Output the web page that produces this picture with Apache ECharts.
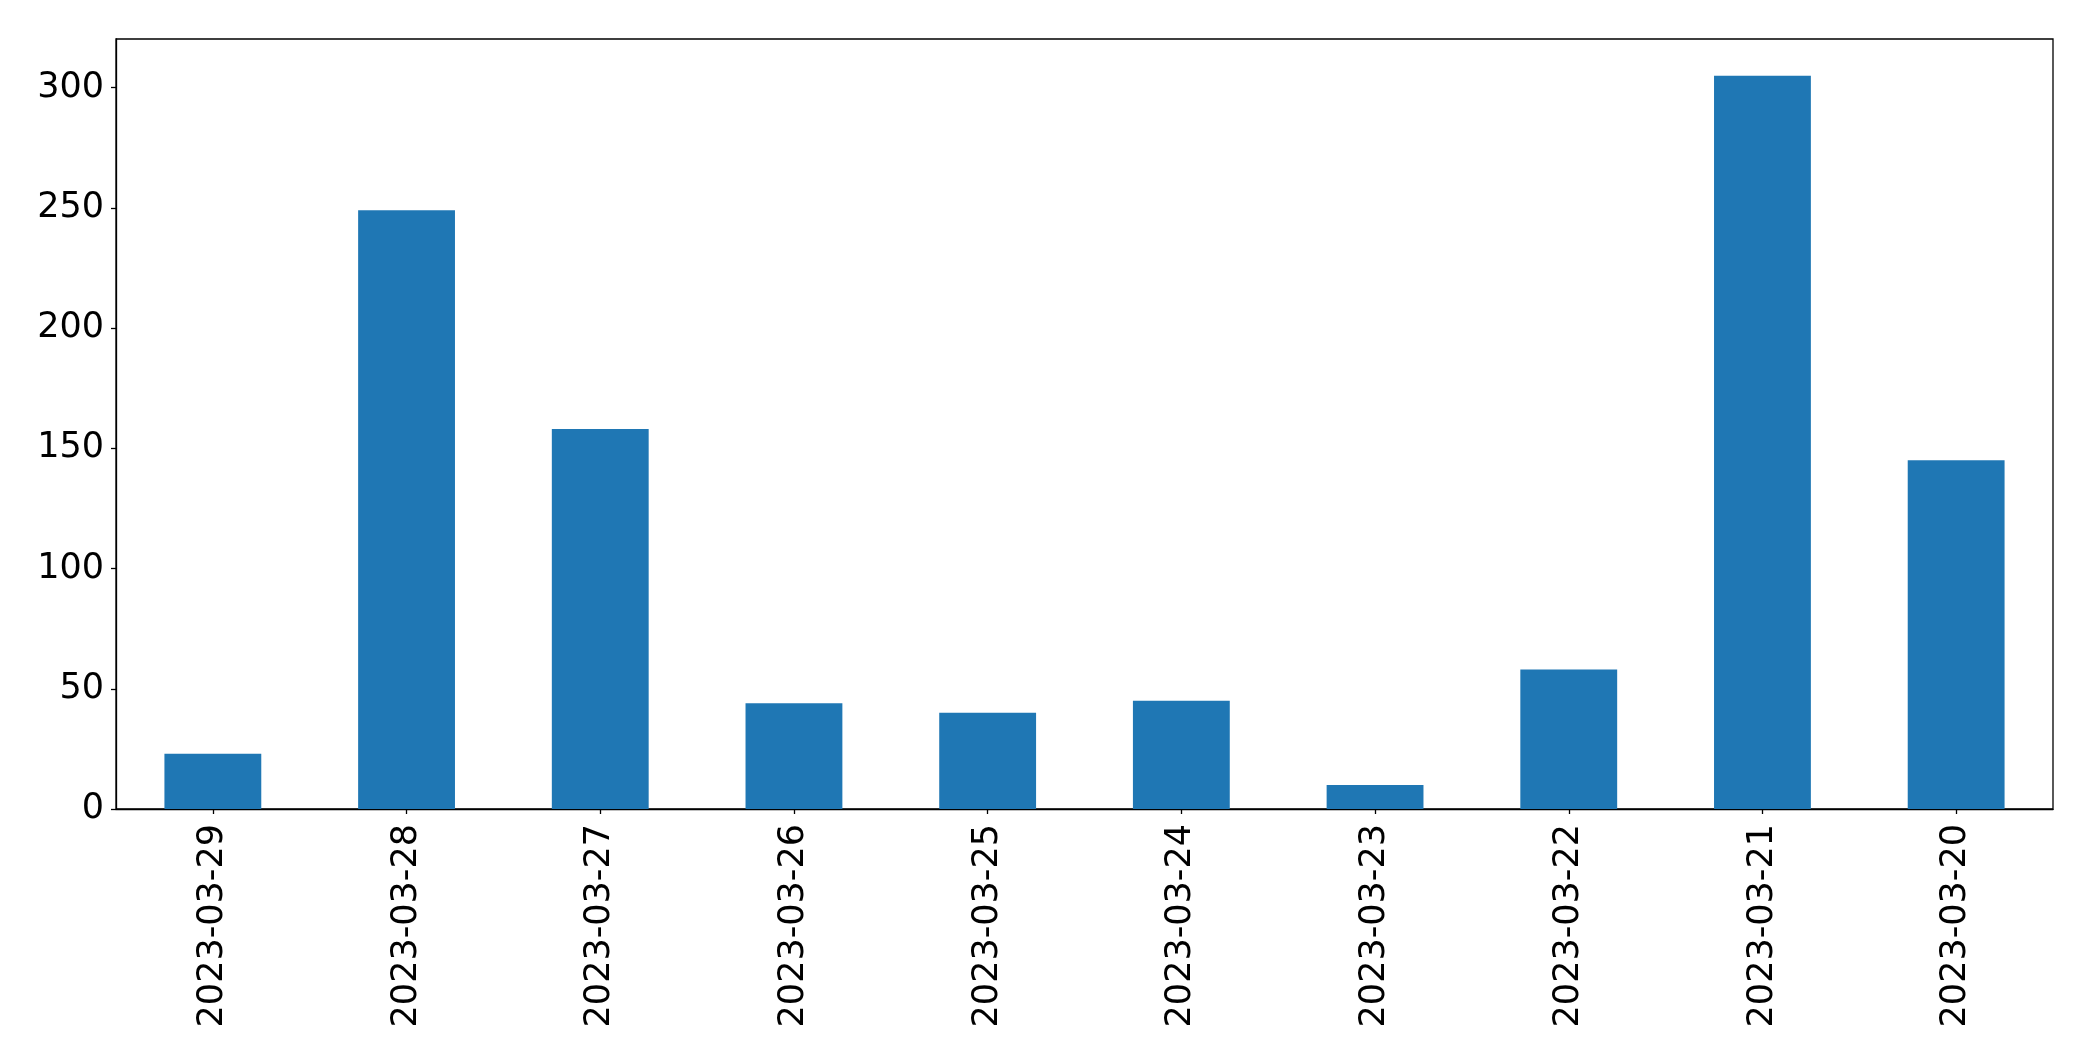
<!DOCTYPE html>
<html>
<head>
<meta charset="utf-8">
<script src="https://cdn.jsdelivr.net/npm/echarts@6/dist/echarts.min.js"></script>
<style>
html, body { margin: 0; padding: 0; background: #ffffff; }
#chart { width: 2093px; height: 1061px; }
</style>
</head>
<body>
<div id="chart"></div>
<script>
const categories = ['2023-03-29', '2023-03-28', '2023-03-27', '2023-03-26', '2023-03-25',
                    '2023-03-24', '2023-03-23', '2023-03-22', '2023-03-21', '2023-03-20'];
const values = [23, 249, 158, 44, 40, 45, 10, 58, 305, 145];
const yTicks = [0, 50, 100, 150, 200, 250, 300];
const yMax = 320.25;

const chart = echarts.init(document.getElementById('chart'), null, { renderer: 'canvas' });
const font = 'DejaVu Sans';
chart.setOption({
  animation: false,
  backgroundColor: '#ffffff',
  grid: {
    left: 116, right: 40, top: 39, bottom: 252,
    show: true, borderColor: '#000000', borderWidth: 1.3, backgroundColor: 'transparent'
  },
  xAxis: {
    type: 'category',
    data: categories,
    boundaryGap: true,
    axisLine: { show: true, lineStyle: { color: '#000000', width: 1.3 } },
    axisTick: { show: true, alignWithLabel: true, length: 5, lineStyle: { color: '#000000', width: 1.3 } },
    axisLabel: { rotate: 90, margin: 15, fontSize: 35, fontFamily: font, color: '#000000', interval: 0 },
    splitLine: { show: false }
  },
  yAxis: {
    type: 'value',
    min: 0,
    max: yMax,
    interval: 50,
    axisLine: { show: true, lineStyle: { color: '#000000', width: 1.3 } },
    axisTick: { show: true, length: 5, customValues: yTicks, lineStyle: { color: '#000000', width: 1.3 } },
    axisLabel: { margin: 12, fontSize: 35, fontFamily: font, color: '#000000', customValues: yTicks, padding: [4, 0, 0, 0] },
    splitLine: { show: false }
  },
  series: [{
    type: 'bar',
    data: values,
    barWidth: '50%',
    itemStyle: { color: '#1f77b4' }
  }]
});
</script>
</body>
</html>
